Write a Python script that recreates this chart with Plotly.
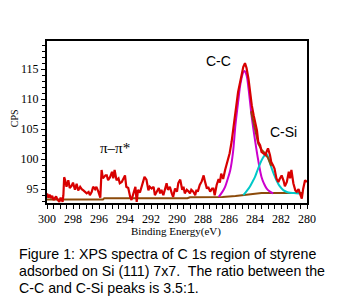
import plotly.graph_objects as go

# Measured spectrum (red)
energy = [300.0, 299.9, 299.8, 299.7, 299.6, 299.5, 299.3, 299.2, 299.05, 298.95, 298.8, 298.74, 298.68, 298.6, 298.5,
          298.36, 298.25, 298.1, 298.0, 297.85, 297.72, 297.6, 297.45, 297.33, 297.2, 297.1, 296.95, 296.8, 296.7, 296.56,
          296.45, 296.3, 296.2, 296.05, 295.9, 295.8, 295.7, 295.5, 295.4, 295.3, 295.15, 295.0, 294.9, 294.8, 294.65,
          294.5, 294.4, 294.25, 294.1, 294.0, 293.9, 293.75, 293.6, 293.5, 293.35, 293.2, 293.1, 293.0, 292.85, 292.7,
          292.6, 292.5, 292.35, 292.2, 292.1, 291.95, 291.8, 291.7, 291.55, 291.4, 291.3, 291.2, 291.05, 290.9, 290.8,
          290.7, 290.55, 290.4, 290.3, 290.15, 290.0, 289.9, 289.75, 289.6, 289.5, 289.4, 289.25, 289.1, 289.0, 288.9,
          288.75, 288.6, 288.5, 288.4, 288.25, 288.1, 287.95, 287.85, 287.7, 287.6, 287.45, 287.3, 287.2, 287.1, 286.95,
          286.8, 286.7, 286.6, 286.45, 286.3, 286.2, 286.05, 285.95, 285.8, 285.65, 285.5, 285.4, 285.3, 285.15, 285.0,
          284.9, 284.77, 284.65, 284.5, 284.4, 284.25, 284.1, 284.0, 283.85, 283.75, 283.6, 283.5, 283.35, 283.2, 283.1,
          283.0, 282.85, 282.75, 282.6, 282.5, 282.35, 282.2, 282.1, 281.95, 281.8, 281.7, 281.55, 281.4, 281.3, 281.2,
          281.05, 280.9, 280.8, 280.65, 280.5, 280.4, 280.3, 280.15, 280.0]
cps = [94.3, 93.6, 94.1, 93.5, 93.9, 93.2, 93.8, 93.3, 92.9, 93.6, 92.9, 94.0, 97.0, 96.5, 95.4,
       96.5, 95.2, 95.6, 96.1, 94.9, 95.9, 94.8, 95.4, 95.0, 94.8, 94.55, 94.3, 94.55, 94.0, 94.55,
       95.4, 95.0, 95.4, 94.6, 93.6, 98.2, 96.8, 97.3, 97.3, 96.5, 97.0, 97.9, 96.8, 98.2, 96.5,
       96.8, 96.0, 96.2, 96.8, 97.3, 95.4, 95.2, 93.7, 93.2, 94.3, 95.4, 92.9, 94.9, 94.45, 95.4,
       96.2, 97.05, 96.6, 94.8, 95.4, 95.1, 95.4, 94.0, 94.6, 95.2, 94.3, 94.9, 94.0, 95.2, 96.0,
       94.9, 95.4, 94.3, 93.7, 95.1, 94.6, 96.0, 96.6, 94.9, 95.4, 94.3, 94.9, 94.6, 94.3, 94.9,
       94.6, 94.0, 94.9, 94.6, 95.7, 96.3, 97.3, 96.3, 95.1, 95.4, 94.6, 95.1, 95.1, 94.0, 95.7,
       96.7, 96.1, 97.6, 96.7, 98.2, 99.0, 100.3, 101.0, 102.9, 105.1, 107.3, 109.55, 111.2, 112.9, 114.3,
       115.4, 116.0, 115.2, 113.4, 111.2, 109.0, 107.3, 106.2, 104.8, 102.9, 102.3, 101.2, 100.9, 100.7, 101.3,
       101.8, 100.7, 99.55, 98.9, 98.45, 96.8, 96.2, 96.7, 97.3, 96.4, 95.5, 96.2, 97.9, 96.8, 98.2,
       96.0, 94.8, 94.6, 95.0, 94.0, 93.45, 95.0, 96.5, 96.2]

# Background (brown)
bg_energy = [300.0, 295.7, 295.6, 289.2, 289.0, 286.5, 285.5, 284.8, 284.0, 283.5, 280.3]
bg_cps = [93.3, 93.3, 93.5, 93.5, 93.65, 93.7, 93.85, 94.0, 94.25, 94.35, 94.35]

# C-C component (magenta)
cc_energy = [286.8, 286.5, 286.3, 286.1, 285.9, 285.7, 285.5, 285.3, 285.1, 284.9, 284.8, 284.65,
             284.5, 284.25, 284.0, 283.75, 283.5, 283.3, 283.1, 282.85, 282.6]
cc_cps = [93.7, 94.6, 95.4, 96.7, 98.2, 101.0, 105.8, 109.5, 112.8, 114.5, 114.7, 114.0,
          111.8, 107.0, 103.2, 99.8, 97.05, 95.9, 95.1, 94.6, 94.3]

# C-Si component (cyan)
csi_energy = [284.9, 284.6, 284.4, 284.2, 284.0, 283.8, 283.6, 283.4, 283.2, 283.1, 282.95, 282.75,
              282.55, 282.35, 282.1, 281.8, 281.5, 281.3, 281.0, 280.6]
csi_cps = [94.0, 94.8, 95.4, 96.2, 97.05, 98.2, 99.3, 100.2, 100.8, 100.85, 100.1, 98.7,
           97.5, 96.5, 95.5, 94.8, 94.5, 94.4, 94.35, 94.3]

# Envelope (brown, mostly hidden)
env_energy = [284.3, 284.0, 283.75, 283.5, 283.25, 283.0, 282.75]
env_cps = [108.0, 104.8, 102.6, 101.6, 101.0, 100.2, 98.9]

fig = go.Figure()
fig.add_trace(go.Scatter(x=bg_energy, y=bg_cps, mode="lines", line=dict(color="#8B4A0A", width=2)))
fig.add_trace(go.Scatter(x=cc_energy, y=cc_cps, mode="lines", line=dict(color="#CC00CC", width=2, shape="spline")))
fig.add_trace(go.Scatter(x=csi_energy, y=csi_cps, mode="lines", line=dict(color="#00C8C8", width=2, shape="spline")))
fig.add_trace(go.Scatter(x=env_energy, y=env_cps, mode="lines", line=dict(color="#8B4A0A", width=2)))
fig.add_trace(go.Scatter(x=energy, y=cps, mode="lines", line=dict(color="#D80000", width=2.2)))

serif = "Liberation Serif, Times New Roman, serif"
sans = "Liberation Sans, Arial, sans-serif"

fig.update_layout(
    width=332, height=294,
    margin=dict(l=39, r=33, t=33, b=99),
    paper_bgcolor="white", plot_bgcolor="white",
    showlegend=False,
    xaxis=dict(range=[300, 280], dtick=2, tick0=280, showgrid=False, zeroline=False,
               showline=True, linecolor="black", linewidth=2, mirror=True,
               ticks="outside", ticklen=4, tickwidth=1, tickcolor="black",
               minor=dict(dtick=0.5, ticks="outside", ticklen=4, tickcolor="black"),
               tickfont=dict(family=serif, size=12, color="black")),
    yaxis=dict(range=[92.7, 119.7], dtick=5, tick0=95, showgrid=False, zeroline=False,
               showline=True, linecolor="black", linewidth=2, mirror=True,
               ticks="outside", ticklen=4, tickwidth=1, tickcolor="black",
               minor=dict(dtick=1, ticks="outside", ticklen=3, tickcolor="black"),
               tickfont=dict(family=serif, size=12, color="black")),
)

ann = [
    dict(x=286.77, y=116.33, xref="x", yref="y", text="C-C", font=dict(family=sans, size=14, color="black")),
    dict(x=281.77, y=104.5, xref="x", yref="y", text="C-Si", font=dict(family=sans, size=14, color="black")),
    dict(x=294.77, y=101.83, xref="x", yref="y", text="π–π*", font=dict(family=serif, size=15, color="black")),
    dict(x=-0.122, y=0.525, xref="paper", yref="paper", text="CPS", textangle=-90,
         font=dict(family=serif, size=10, color="black")),
    dict(x=0.496, y=-0.179, xref="paper", yref="paper", text="Binding Energy(eV)",
         font=dict(family=serif, size=11, color="black")),
    dict(x=-0.1154, y=-0.315, xref="paper", yref="paper", xanchor="left", text="Figure 1: XPS spectra of C 1s region of styrene",
         font=dict(family=sans, size=14.2, color="black")),
    dict(x=-0.1154, y=-0.420, xref="paper", yref="paper", xanchor="left", text="adsorbed on Si (111) 7x7.  The ratio between the",
         font=dict(family=sans, size=14.2, color="black")),
    dict(x=-0.1154, y=-0.525, xref="paper", yref="paper", xanchor="left", text="C-C and C-Si peaks is 3.5:1.",
         font=dict(family=sans, size=14.2, color="black")),
]
for a in ann:
    a.setdefault("xanchor", "center")
    a["yanchor"] = "middle"
    a["showarrow"] = False
fig.update_layout(annotations=ann)

fig.write_html("out.html")
